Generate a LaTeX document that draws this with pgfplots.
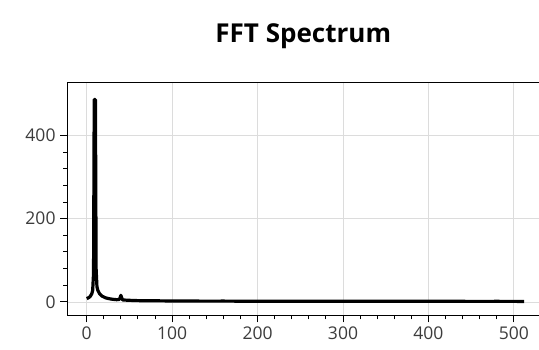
\documentclass[border=0pt]{standalone}
\usepackage{pgfplots}
\pgfplotsset{compat=1.18}
\usepackage{fontspec}
\setmainfont{Open Sans}
\definecolor{gridc}{RGB}{220,220,220}
\definecolor{labc}{RGB}{60,60,60}
\begin{document}
\begin{tikzpicture}
\useasboundingbox (-67pt,-34pt) rectangle (471.5pt,315pt);
\begin{axis}[
  at={(0,0)}, anchor=south west,
  scale only axis, width=472pt, height=233pt,
  xmin=-23, xmax=530, ymin=-32, ymax=528,
  xtick={0,100,200,300,400,500},
  ytick={0,200,400},
  minor x tick num=4, minor y tick num=4,
  grid=major, major grid style={gridc, line width=0.9pt},
  axis line style={black, line width=1pt},
  tick style={black, line width=1pt},
  major tick length=7pt, minor tick length=4pt,
  tick align=outside,
  xtick pos=left, ytick pos=left,
  ticklabel style={font=\fontsize{17.5}{20}\selectfont, text=labc},
  /pgf/number format/assume math mode=true,
  xticklabel style={yshift=-1pt},
  yticklabel style={xshift=-1pt},
  title={\bfseries FFT Spectrum},
  title style={font=\fontsize{26}{30}\selectfont\bfseries, yshift=24pt},
  clip=false,
]
\addplot[black, line width=3.2pt, line join=round] coordinates {
(0,8) (2,10) (4,13) (6,20) (7,28) (8,70) (8.8,486) (10.2,486) (11,80) (12,36)
(13,28) (15,20) (18,14) (22,10) (26,8) (30,6.5) (35,5.5) (38,6) (39,10) (40,16)
(41,10) (42,5) (45,4.5) (50,4) (55,3.5) (60,3.2) (70,3) (80,2.8) (90,2.6)
(100,2.4) (120,2.2) (140,2.0) (160,2.1) (180,1.9) (200,1.8) (220,1.9) (240,1.7)
(260,1.8) (280,1.6) (300,1.7) (320,1.6) (340,1.7) (360,1.5) (380,1.6) (400,1.5)
(420,1.6) (440,1.5) (460,1.4) (480,1.5) (500,1.4) (512,1.3)
};
\end{axis}
\end{tikzpicture}
\end{document}
